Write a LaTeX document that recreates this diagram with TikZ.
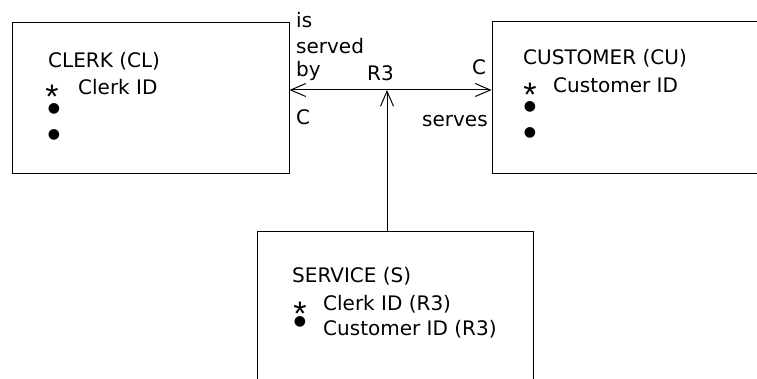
\documentclass[tikz,border=0pt]{standalone}
\usepackage{fontspec}
\setmainfont{DejaVu Sans}
\newfontfamily\keyfont{Liberation Sans}
\usetikzlibrary{arrows.meta}
\tikzset{
  entity/.style={draw, line width=1pt, rectangle, inner sep=0pt},
  lbl/.style={anchor=base west, inner sep=0pt, font=\fontsize{20}{24}\selectfont},
  keymark/.style={inner sep=0pt, font=\keyfont\fontsize{34}{36}\selectfont},
  dotmark/.style={inner sep=0pt, font=\fontsize{14}{16}\selectfont},
  rel/.style={line width=1pt, -{Straight Barb[length=15pt,width=13pt,line width=1pt]}},
}
% key asterisk, centred on its node
\newcommand{\keystar}{\raisebox{-19.5pt}[5pt][5pt]{*}}
\begin{document}
\begin{tikzpicture}[x=1pt, y=-1pt]
\clip (0,0) rectangle (757,379);
\fill[white] (0,0) rectangle (757,379);

% entity boxes
\node[entity, minimum width=277pt, minimum height=151pt] (clerk) at (150.5,98.5) {};
\node[entity, minimum width=290pt, minimum height=152pt] (cust) at (637,98) {};
\node[entity, minimum width=276pt, minimum height=170pt] (serv) at (395,317) {};

% CLERK contents
\node[lbl] (clt) at (48,68) {CLERK (CL)};
\node[keymark] (clk) at (52,89) {\keystar};
\node[lbl] (clid) at (78,95) {Clerk ID};
\node[dotmark] (cld1) at (54,109) {●};
\node[dotmark] (cld2) at (54,135) {●};

% CUSTOMER contents
\node[lbl] (cut) at (523,65) {CUSTOMER (CU)};
\node[keymark] (cuk) at (530,87) {\keystar};
\node[lbl] (cuid) at (553,93) {Customer ID};
\node[dotmark] (cud1) at (530,107) {●};
\node[dotmark] (cud2) at (530,133) {●};

% SERVICE contents
\node[lbl] (st) at (292,283) {SERVICE (S)};
\node[keymark] (sk) at (300,306) {\keystar};
\node[lbl] (sid1) at (323,310) {Clerk ID (R3)};
\node[dotmark] (sd) at (300,322) {●};
\node[lbl] (sid2) at (323,335) {Customer ID (R3)};

% relationship R3
\coordinate (r3) at (387,90);
\draw[rel] (r3) -- (r3 -| clerk.east);
\draw[rel] (r3) -- (r3 -| cust.west);
\draw[rel] (serv.north -| r3) -- (r3);

% relationship labels
\node[lbl] (is) at (296,28) {is};
\node[lbl] (served) at (296,54) {served};
\node[lbl] (by) at (296,77) {by};
\node[lbl] (r3l) at (367,81) {R3};
\node[lbl] (cr) at (472,75) {C};
\node[lbl] (cl) at (296,125) {C};
\node[lbl] (serves) at (422,127) {serves};
\end{tikzpicture}
\end{document}
